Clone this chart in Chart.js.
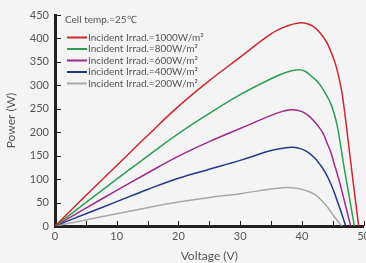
<!DOCTYPE html>
<html>
<head>
<meta charset="utf-8">
<script src="https://cdn.jsdelivr.net/npm/chart.js@4"></script>
<style>
  html, body { margin: 0; padding: 0; background: #f4f4f4; overflow: hidden; }
  #wrap { position: absolute; left: 0; top: 0; width: 374px; height: 263px; }
</style>
</head>
<body>
<div id="wrap"><canvas id="pvChart"></canvas></div>
<script>
const cellTemp = 'Cell temp.=25℃';
const seriesLabels = [
  'Incident Irrad.=1000W/m²',
  'Incident Irrad.=800W/m²',
  'Incident Irrad.=600W/m²',
  'Incident Irrad.=400W/m²',
  'Incident Irrad.=200W/m²'
];
const seriesColors = ['#d0262c', '#2f9e55', '#a12890', '#233a88', '#a8a8a8'];

// voltage (V) / power (W)
const volt1000 = [0, 5, 10, 15, 20, 25, 30, 35, 37.5, 39.5, 41, 42, 43, 44, 44.6, 45.2, 45.7, 46.1, 46.5, 47.1, 47.6, 48.2, 48.7, 49.2];
const pow1000  = [0, 65, 129, 193, 255, 310, 360, 410, 426, 433, 431, 424, 411, 392, 375, 355, 333, 310, 284, 225, 170, 105, 52, 0];
const volt800  = [0, 5, 10, 15, 20, 25, 30, 35, 37.5, 39.5, 40.5, 41.5, 42.5, 43.3, 44.1, 44.7, 45.2, 45.7, 46.2, 46.8, 47.5, 48.5];
const pow800   = [0, 50, 100, 149, 197, 240, 280, 314, 328, 333, 330, 320, 308, 294, 276, 260, 241, 215, 178, 128, 75, 0];
const volt600  = [0, 5, 10, 15, 20, 25, 30, 35, 37, 38.5, 40, 41, 41.8, 42.7, 43.5, 44.1, 44.7, 45.2, 45.8, 46.3, 47.1, 47.9];
const pow600   = [0, 38, 76, 113, 149, 180, 208, 236, 245, 248, 244, 236, 226, 212, 196, 176, 157, 134, 108, 84, 42, 0];
const volt400  = [0, 5, 10, 15, 20, 25, 30, 35, 37, 38.5, 40, 41, 42, 43, 43.8, 44.4, 45, 45.5, 46.3, 47.1];
const pow400   = [0, 26, 52, 78, 102, 121, 140, 161, 166, 168, 164, 157, 146, 130, 114, 98, 80, 62, 32, 0];
const volt200  = [0, 5, 10, 15, 20, 25, 30, 35, 37.5, 38.8, 40, 41, 42, 43, 44.1, 44.8, 45.5, 46, 46.5];
const pow200   = [0, 13, 26, 39, 51, 61, 69, 79, 82, 81, 78, 74, 68, 57, 41, 28, 16, 7, 0];

const xMin = 0, xMax = 50, xStep = 5;
const yMin = 0, yMax = 450, yStep = 50;

const voltSets = [volt1000, volt800, volt600, volt400, volt200];
const powSets  = [pow1000, pow800, pow600, pow400, pow200];

const axisColor = '#231f1c';
const textColor = '#555';
const fontFamily = 'Lato, "Open Sans", sans-serif';

const toPoints = (vs, ps) => vs.map((v, i) => ({ x: v, y: ps[i] }));

// ticks drawn inward from the axes
const innerTicks = {
  id: 'innerTicks',
  afterDraw(chart) {
    const { ctx, chartArea, scales } = chart;
    ctx.save();
    ctx.strokeStyle = axisColor;
    ctx.lineWidth = 1;
    ctx.beginPath();
    scales.x.ticks.forEach(t => {
      if (t.value === xMin) return;
      const px = Math.round(scales.x.getPixelForValue(t.value)) + 0.5;
      ctx.moveTo(px, chartArea.bottom);
      ctx.lineTo(px, chartArea.bottom - 5);
    });
    scales.y.ticks.forEach(t => {
      if (t.value === yMin) return;
      const py = Math.round(scales.y.getPixelForValue(t.value)) + 0.5;
      ctx.moveTo(chartArea.left, py);
      ctx.lineTo(chartArea.left + 6, py);
    });
    ctx.stroke();
    ctx.restore();
  }
};

// legend box inside the plot, top-left
const insideLegend = {
  id: 'insideLegend',
  afterDraw(chart) {
    const { ctx, chartArea } = chart;
    const x0 = chartArea.left + 10;
    ctx.save();
    ctx.font = '10px ' + fontFamily;
    ctx.fillStyle = textColor;
    ctx.textBaseline = 'middle';
    ctx.fillText(cellTemp, x0, chartArea.top + 5);
    chart.data.datasets.forEach((ds, i) => {
      const y = chartArea.top + 22.5 + i * 11.5;
      ctx.strokeStyle = ds.borderColor;
      ctx.lineWidth = 2;
      ctx.beginPath();
      ctx.moveTo(x0 + 2, y);
      ctx.lineTo(x0 + 22, y);
      ctx.stroke();
      ctx.fillStyle = textColor;
      ctx.fillText(ds.label, x0 + 23, y);
    });
    ctx.restore();
  }
};

new Chart(document.getElementById('pvChart'), {
  type: 'line',
  data: {
    datasets: seriesLabels.map((label, i) => ({
      label,
      data: toPoints(voltSets[i], powSets[i]),
      borderColor: seriesColors[i],
      borderWidth: 1.5,
      pointRadius: 0,
      fill: false,
      tension: 0.4
    }))
  },
  options: {
    responsive: true,
    maintainAspectRatio: false,
    animation: false,
    layout: { padding: { left: 0, right: 4, top: 15, bottom: 0 } },
    scales: {
      x: {
        type: 'linear',
        min: xMin,
        max: xMax,
        grid: { display: false, drawTicks: false },
        border: { display: true, color: axisColor, width: 3 },
        ticks: {
          stepSize: xStep,
          autoSkip: false,
          maxRotation: 0,
          padding: 4,
          color: textColor,
          font: { family: fontFamily, size: 11 },
          callback: v => (v % 10 === 0 ? v : '')
        },
        title: {
          display: true,
          text: 'Voltage (V)',
          color: textColor,
          font: { family: fontFamily, size: 12 },
          padding: { top: 0, bottom: 0 }
        },
        afterFit: s => { s.height = 37; }
      },
      y: {
        min: yMin,
        max: yMax,
        grid: { display: false, drawTicks: false },
        border: { display: true, color: axisColor, width: 3 },
        ticks: {
          stepSize: yStep,
          padding: 6,
          color: textColor,
          font: { family: fontFamily, size: 11 }
        },
        title: {
          display: true,
          text: 'Power (W)',
          color: textColor,
          font: { family: fontFamily, size: 12 },
          padding: { top: 4, bottom: 0 }
        },
        afterFit: s => { s.width = 55; }
      }
    },
    plugins: {
      legend: { display: false },
      tooltip: { enabled: false }
    }
  },
  plugins: [innerTicks, insideLegend]
});
</script>
</body>
</html>
